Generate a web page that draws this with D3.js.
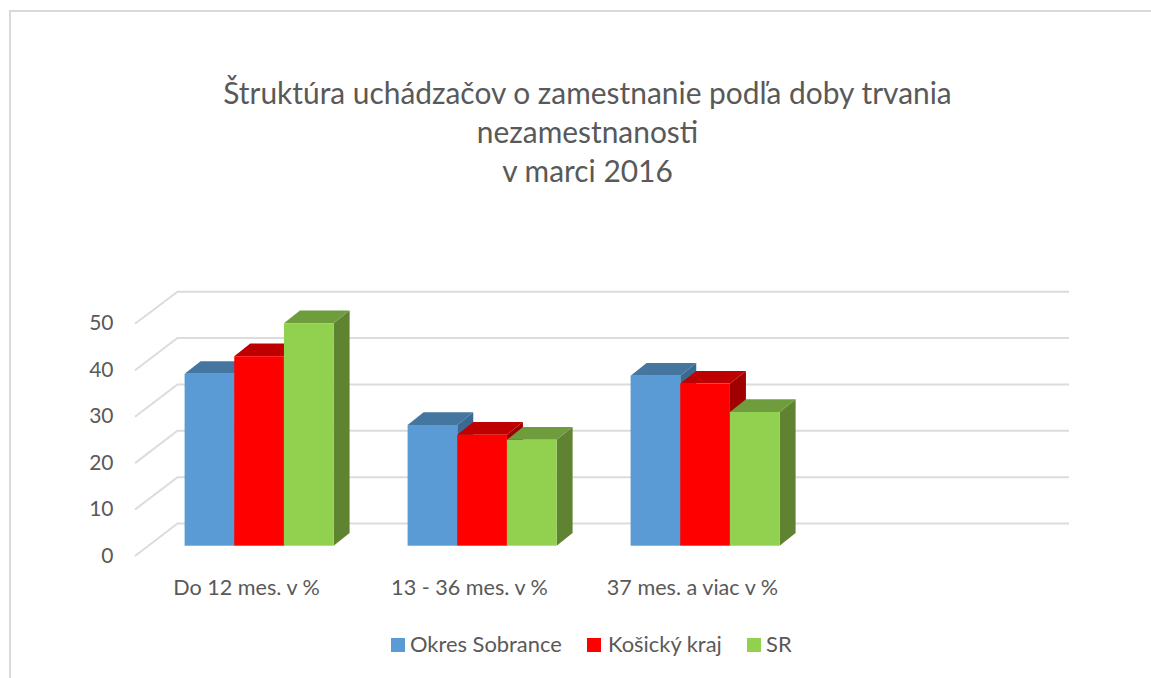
<!DOCTYPE html>
<html><head><meta charset="utf-8">
<script src="https://cdn.jsdelivr.net/npm/d3@7"></script>
<style>html,body{margin:0;padding:0;background:#fff}svg{display:block}text{font-family:Lato,"Open Sans",sans-serif;fill:#595959}</style>
</head><body><svg id="c" width="1151" height="678"></svg>
<script>
const titleLines = ["Štruktúra uchádzačov o zamestnanie podľa doby trvania","nezamestnanosti","v marci 2016"];
const categories = ["Do 12 mes. v %","13 - 36 mes. v %","37 mes. a viac v %",""];
const seriesNames = ["Okres Sobrance","Košický kraj","SR"];
const sobrance = [37.0,26.0,36.6];
const kosice = [40.8,23.9,34.9];
const sr = [47.9,22.8,28.8];
const seriesValues = [sobrance,kosice,sr];
const yTicks = [0,10,20,30,40,50];
const frontColors = ["#5b9bd5","#ff0000","#92d050"];
const topColors = ["#44769f","#bf0000","#6f9d3d"];
const sideColors = ["#3a6a92","#a00000","#5f8331"];

const svg = d3.select("#c");
const grid = "#dcdcdc";
// frame
svg.append("path").attr("d","M10,678V11H1151").attr("fill","none").attr("stroke","#d9d9d9").attr("stroke-width",2);

// title
svg.append("g").selectAll("text").data(titleLines).join("text")
  .attr("x",587.5).attr("y",(d,i)=>104+i*38.9).attr("text-anchor","middle")
  .attr("font-size",29.9).text(d=>d);

// scales
const vBack = d3.scaleLinear().domain([0,50]).range([523.5,291.7]);
const vFront = d3.scaleLinear().domain([0,50]).range([556,323.8]);
const vBar = d3.scaleLinear().domain([0,50]).range([545.7,313.5]);
const x0 = d3.scaleBand().domain(categories).range([135,1027]);
const barOffset = 49.6;
const xS = d3.scaleBand().domain(seriesNames).range([0,149]);
const depthX = 16, depthY = 12.7;

// gridlines
const gl = svg.append("g").attr("fill","none").attr("stroke",grid).attr("stroke-width",2);
gl.selectAll("path").data(yTicks).join("path")
  .attr("d",v=>`M135,${vFront(v)}L177.5,${vBack(v)}H1069`);

// y labels
svg.append("g").selectAll("text").data(yTicks).join("text")
  .attr("x",113.5).attr("y",v=>vFront(v)-1).attr("dy","0.36em").attr("text-anchor","end")
  .attr("font-size",21).text(d=>d);

// category labels
svg.append("g").selectAll("text").data(categories.filter(c=>c)).join("text")
  .attr("x",c=>x0(c)+x0.bandwidth()/2).attr("y",587).attr("dy","0.36em").attr("text-anchor","middle")
  .attr("font-size",21.6).text(d=>d);

// bars
const bars = svg.append("g");
categories.filter(c=>c).forEach((c,ci)=>{
  seriesNames.forEach((s,si)=>{
    const l = x0(c)+barOffset+xS(s), r = l+xS.bandwidth();
    const t = vBar(seriesValues[si][ci]), b = vBar(0);
    const g = bars.append("g");
    g.append("path").attr("fill",sideColors[si])
      .attr("d",`M${r},${t}L${r+depthX},${t-depthY}V${b-depthY}L${r},${b}Z`);
    g.append("path").attr("fill",topColors[si])
      .attr("d",`M${l},${t}L${l+depthX},${t-depthY}H${r+depthX}L${r},${t}Z`);
    g.append("rect").attr("fill",frontColors[si])
      .attr("x",l).attr("y",t).attr("width",r-l).attr("height",b-t);
  });
});

// legend
const legendX = [391,587,747], legendTextX = [410,608,766];
const lg = svg.append("g");
seriesNames.forEach((s,i)=>{
  lg.append("rect").attr("x",legendX[i]).attr("y",638).attr("width",14).attr("height",14).attr("fill",frontColors[i]);
  lg.append("text").attr("x",legendTextX[i]).attr("y",644).attr("dy","0.36em").attr("font-size",21.9).text(s);
});
</script></body></html>
